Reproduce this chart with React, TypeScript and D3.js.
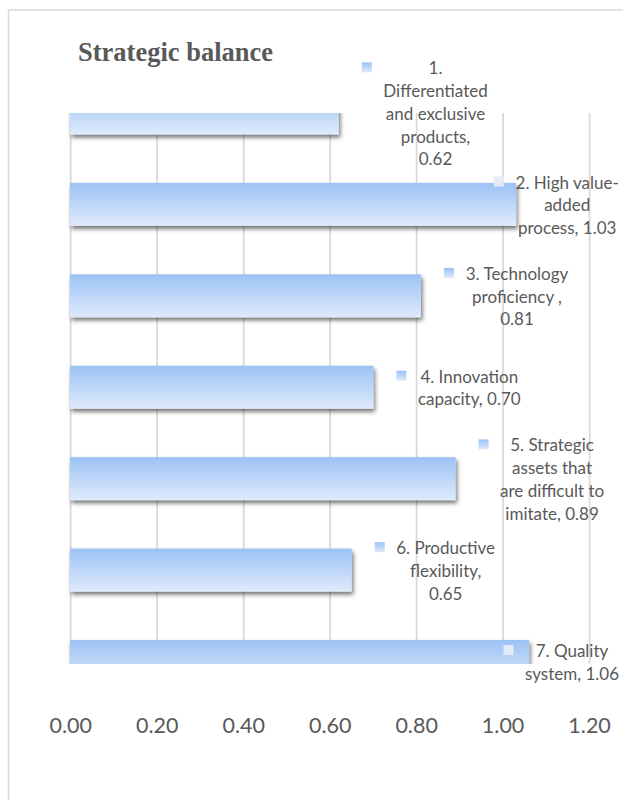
import React from "react";
import * as d3 from "d3";

const title = "Strategic balance";
const categories = [
  "1. Differentiated and exclusive products",
  "2. High value-added process",
  "3. Technology proficiency",
  "4. Innovation capacity",
  "5. Strategic assets that are difficult to imitate",
  "6. Productive flexibility",
  "7. Quality system",
];
const values = [0.62, 1.03, 0.81, 0.7, 0.89, 0.65, 1.06];
const labelLines = [
  ["1.", "Differentiated", "and exclusive", "products,", "{v}"],
  ["2. High value-", "added", "process, {v}"],
  ["3. Technology", "proficiency ,", "{v}"],
  ["4. Innovation", "capacity, {v}"],
  ["5. Strategic", "assets that", "are difficult to", "imitate, {v}"],
  ["6. Productive", "flexibility,", "{v}"],
  ["7. Quality", "system, {v}"],
];
const tickValues = [0, 0.2, 0.4, 0.6, 0.8, 1.0, 1.2];

const W = 623;
const H = 800;
const LABEL_FONT = "Lato, 'Open Sans', sans-serif";
const LABEL_SIZE = 17;
const LINE_H = 22.7;
const TEXT_COLOR = "#595959";

let canvasCtx: CanvasRenderingContext2D | null = null;
function measure(text: string, size: number): number {
  if (!canvasCtx) {
    const c = document.createElement("canvas");
    canvasCtx = c.getContext("2d");
  }
  if (!canvasCtx) return text.length * size * 0.5;
  canvasCtx.font = `${size}px Lato`;
  return canvasCtx.measureText(text).width;
}

export default function App() {
  const fmt = d3.format(".2f");
  const x = d3.scaleLinear().domain([0, 1.2]).range([70.7, 589.6]);
  const y = d3.scalePoint<string>().domain(categories).range([113, 661.5]);
  const barH = 43;
  const plotTop = 113;
  const plotBottom = 664;
  const rightLimit = 619;

  return (
    <svg
      width={W}
      height={H}
      style={{ position: "absolute", left: 0, top: 0, background: "#fff" }}
    >
      <defs>
        <linearGradient id="barGrad" x1="0" y1="0" x2="0" y2="1">
          <stop offset="0%" stopColor="#9bc2f5" />
          <stop offset="100%" stopColor="#dfeafb" />
        </linearGradient>
        <filter id="shadow" x="-10%" y="-30%" width="120%" height="180%">
          <feDropShadow dx="1.5" dy="3" stdDeviation="2" floodColor="#000" floodOpacity="0.55" />
        </filter>
        <clipPath id="plotClip">
          <rect x={0} y={plotTop} width={W} height={plotBottom - plotTop} />
        </clipPath>
      </defs>

      <rect x={8.5} y={10} width={800} height={1000} fill="#fff" stroke="#d9d9d9" strokeWidth={1.5} />

      <text
        x={78}
        y={61}
        fontFamily="'Liberation Serif', 'Times New Roman', serif"
        fontWeight="bold"
        fontSize={26.5}
        fill={TEXT_COLOR}
      >
        {title}
      </text>

      {/* gridlines */}
      <g>
        {tickValues.map((t) => (
          <line
            key={t}
            x1={x(t)}
            x2={x(t)}
            y1={plotTop}
            y2={plotBottom}
            stroke="#d9d9d9"
            strokeWidth={1.75}
          />
        ))}
      </g>

      {/* bars */}
      <g clipPath="url(#plotClip)">
        {categories.map((c, i) => (
          <rect
            key={c}
            x={x(0) - 0.7}
            y={(y(c) as number) - barH / 2}
            width={x(values[i]) - x(0) + 0.7}
            height={barH}
            fill="url(#barGrad)"
            filter="url(#shadow)"
          />
        ))}
      </g>

      {/* tick labels */}
      <g>
        {tickValues.map((t) => (
          <text
            key={t}
            x={x(t)}
            y={733}
            textAnchor="middle"
            fontFamily={LABEL_FONT}
            fontSize={21.5}
            fill={TEXT_COLOR}
          >
            {fmt(t)}
          </text>
        ))}
      </g>

      {/* data labels */}
      <g>
        {categories.map((c, i) => {
          const v = values[i];
          const lines = labelLines[i].map((l) => l.replace("{v}", fmt(v)));
          const blockW = Math.max(...lines.map((l) => measure(l, LABEL_SIZE)));
          let keyX = x(v) + 23;
          let blockLeft = keyX + 21.5;
          if (blockLeft + blockW > rightLimit) {
            const shift = blockLeft + blockW - rightLimit;
            keyX -= shift;
            blockLeft -= shift;
          }
          const cx = blockLeft + blockW / 2;
          const cy = y(c) as number;
          const firstBase = cy - ((lines.length - 1) * LINE_H) / 2 + 6.8;
          const inside = keyX < x(v);
          return (
            <g key={c}>
              <rect
                x={keyX}
                y={firstBase - 12}
                width={10}
                height={10}
                fill={inside ? "#e3ebf7" : "url(#barGrad)"}
              />
              {lines.map((l, j) => (
                <text
                  key={j}
                  x={cx}
                  y={firstBase + j * LINE_H}
                  textAnchor="middle"
                  fontFamily={LABEL_FONT}
                  fontSize={LABEL_SIZE}
                  fill={TEXT_COLOR}
                >
                  {l}
                </text>
              ))}
            </g>
          );
        })}
      </g>
    </svg>
  );
}
